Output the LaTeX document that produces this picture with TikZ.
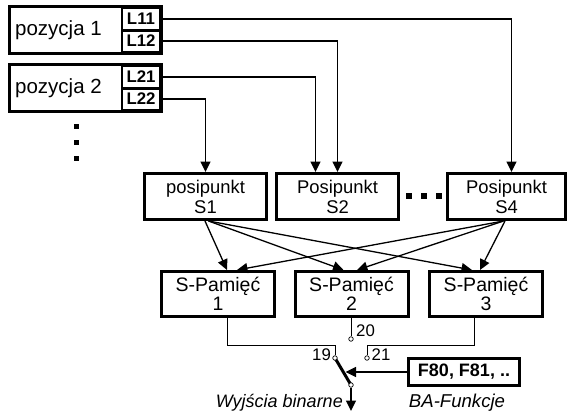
\documentclass[tikz,border=0pt]{standalone}
\usepackage{fontspec}
\setmainfont{Liberation Sans}
\usetikzlibrary{arrows.meta}
\begin{document}
\begin{tikzpicture}[x=1pt,y=-1pt,
  bigbox/.style={draw, line width=3pt, inner sep=0pt},
  cell/.style={draw, line width=1.1pt, minimum width=38pt, minimum height=22pt, inner sep=0pt, font=\bfseries\fontsize{16.8}{18}\selectfont},
  sbox/.style={bigbox, minimum width=122pt, minimum height=46pt, align=center, font=\fontsize{18.4}{20}\selectfont},
  mbox/.style={bigbox, minimum width=113pt, minimum height=45pt, align=center, font=\fontsize{19.5}{18.5}\selectfont},
  conn/.style={line width=1.3pt, -{Triangle[width=10pt,length=10.5pt]}},
  wire/.style={line width=0.9pt},
  term/.style={circle, draw, line width=0.7pt, fill=white, inner sep=0pt, minimum size=4.5pt},
  num/.style={inner sep=0pt, font=\fontsize{16.8}{18}\selectfont},
  itl/.style={inner sep=0pt, font=\itshape\fontsize{18}{20}\selectfont}
]
\useasboundingbox (0,0) rectangle (570,412);

% position boxes
\node[bigbox, minimum width=152pt, minimum height=47pt] (p1) at (85.5,30) {};
\node[inner sep=0pt, font=\fontsize{20.5}{24}\selectfont] (p1t) at (58.5,30) {pozycja 1};
\node[cell] (L11) at (141,19) {L11};
\node[cell] (L12) at (141,41) {L12};
\draw[line width=2pt] (L11.south west) -- (L11.south east);

\node[bigbox, minimum width=152pt, minimum height=47pt] (p2) at (85.5,88) {};
\node[inner sep=0pt, font=\fontsize{20.5}{24}\selectfont] (p2t) at (58.5,88) {pozycja 2};
\node[cell] (L21) at (141,77) {L21};
\node[cell] (L22) at (141,99) {L22};
\draw[line width=2pt] (L21.south west) -- (L21.south east);

% vertical dots
\foreach \yy in {126.5,142.5,158.5} \fill (74,{\yy-2.5}) rectangle ++(5,5);

% posipunkt boxes
\node[sbox] (S1) at (205.5,196.5) {posipunkt\\S1};
\node[sbox] (S2) at (337.5,196.5) {Posipunkt\\S2};
\node[sbox, minimum width=118pt] (S4) at (506.5,196.5) {Posipunkt\\S4};
\foreach \xx in {409,424,439} \fill ({\xx-2.75},193) rectangle ++(5.5,5.5);

% memory boxes
\node[mbox] (M1) at (218,294) {S-Pamięć\\1};
\node[mbox] (M2) at (351.5,294) {S-Pamięć\\2};
\node[mbox] (M3) at (486,294) {S-Pamięć\\3};

% function box
\node[bigbox, minimum width=111pt, minimum height=27pt, font=\bfseries\fontsize{18}{20}\selectfont] (F) at (464,372) {F80, F81, ..};

% terminals
\coordinate (swp) at (345.5,372);
\coordinate (out) at (351,411);
\draw[line width=3pt] (335,358) -- (351,385);
\node[term] (c19) at (335,358) {};
\node[term] (c20) at (351,339) {};
\node[term] (c21) at (367,358) {};
\node[term] (csw) at (351,385) {};

\node[num] (n19) at (321.5,355) {19};
\node[num] (n20) at (365.5,331) {20};
\node[num] (n21) at (381,355) {21};
\node[itl, anchor=east] (wy) at (343,403) {Wyjścia binarne};
\node[itl, font=\itshape\fontsize{18.6}{20}\selectfont] (ba) at (457,403) {BA-Funkcje};

% connectors from positions
\draw[conn] (L11.east) -| ([xshift=5pt]S4.north);
\draw[conn] (L12.east) -| (S2.north);
\draw[conn] (L21.east) -| ([xshift=-22pt]S2.north);
\draw[conn] (L22.east) -| (S1.north);

% crossing connectors
\draw[conn] ([xshift=-0.5pt]S1.south) -- ([xshift=9pt]M1.north);
\draw[conn] ([xshift=3pt]S1.south) -- ([xshift=-8pt]M2.north);
\draw[conn] ([xshift=3pt]S1.south) -- ([xshift=-14pt]M3.north);
\draw[conn] ([xshift=-3pt]S4.south) -- ([xshift=19pt]M1.north);
\draw[conn] ([xshift=-3pt]S4.south) -- ([xshift=5.5pt]M2.north);
\draw[conn] ([xshift=-1.5pt]S4.south) -- ([xshift=-6pt]M3.north);

% wires to switch
\draw[wire] ([xshift=9pt]M1.south) -- ++(0,27) -| (c19.north);
\draw[wire] ([xshift=-0.5pt]M2.south) -- (c20.north);
\draw[wire] ([xshift=-12pt]M3.south) -- ++(0,27) -| (c21.north);

\draw[conn] (F.west) -- (swp);
\draw[conn] (csw.south) -- (out);
\end{tikzpicture}
\end{document}
